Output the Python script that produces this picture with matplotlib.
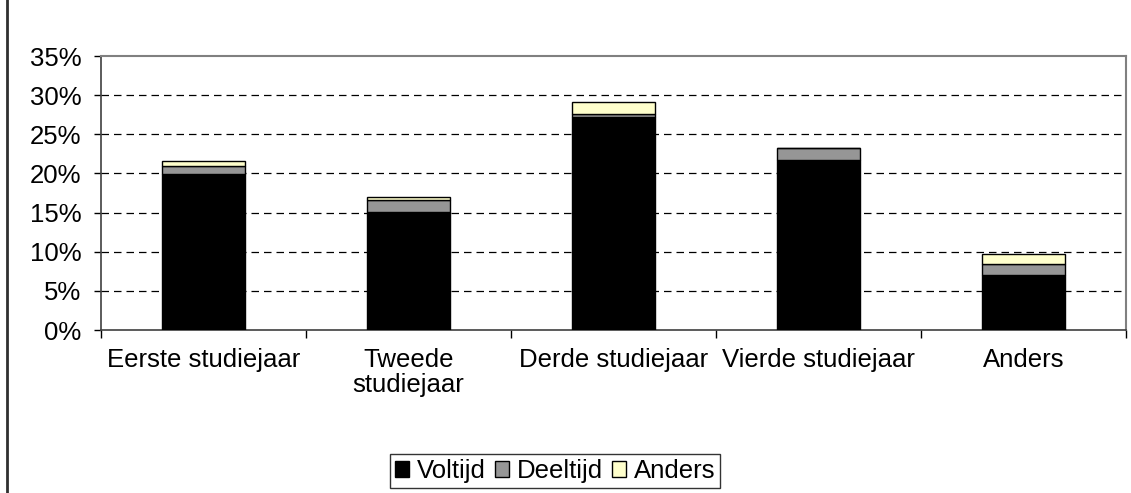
import matplotlib
matplotlib.use("Agg")
from matplotlib import pyplot as plt
from matplotlib.lines import Line2D
import numpy as np

plt.rcParams['font.family'] = ['Liberation Sans', 'DejaVu Sans']

# categorieen en waarden (in %)
categories = ['Eerste studiejaar', 'Tweede\nstudiejaar', 'Derde studiejaar', 'Vierde studiejaar', 'Anders']
voltijd  = [19.9, 15.1, 27.2, 21.7, 7.0]
deeltijd = [1.0, 1.5, 0.4, 1.5, 1.4]
anders   = [0.7, 0.4, 1.5, 0.0, 1.3]
yticks = [0, 5, 10, 15, 20, 25, 30, 35]

fs = 18.5

fig = plt.figure(figsize=(11.31, 4.93), dpi=100)
ax = fig.add_axes([101/1131, 1 - 330/493, 1025/1131, (330-56)/493])

x = np.arange(len(categories))
w = 0.405
ax.bar(x, voltijd, w, color='black', edgecolor='black', linewidth=1, label='Voltijd', zorder=3)
ax.bar(x, deeltijd, w, bottom=voltijd, color='#969696', edgecolor='black', linewidth=1, label='Deeltijd', zorder=3)
bot = [a + b for a, b in zip(voltijd, deeltijd)]
ax.bar(x, anders, w, bottom=bot, color='#FFFFCC', edgecolor='black', linewidth=1, label='Anders', zorder=3)

ax.set_xlim(-0.5, len(categories) - 0.5)
ax.set_ylim(0, 35)
ax.set_yticks(yticks)
ax.set_yticklabels([f'{t}%' for t in yticks], fontsize=fs)
for t in yticks[1:-1]:
	ax.axhline(t, color='black', linestyle=(0, (6, 4)), linewidth=0.9, zorder=1)

ax.set_xticks(x)
ax.set_xticklabels(categories, fontsize=fs, linespacing=1.05)
ax.tick_params(axis='x', length=0, pad=13)
ax.set_xticks(np.arange(len(categories) + 1) - 0.5, minor=True)
ax.tick_params(axis='x', which='minor', length=6, direction='out', width=1)
ax.tick_params(axis='y', length=5, direction='out', width=1, pad=9)

for s in ['top', 'right']:
	ax.spines[s].set_color('#808080')
	ax.spines[s].set_linewidth(1.5)
for s in ['left', 'bottom']:
	ax.spines[s].set_color('#404040')
	ax.spines[s].set_linewidth(1.2)

leg = fig.legend(loc='center', bbox_to_anchor=(555/1131, 1 - 471/493), ncol=3, fontsize=fs,
				 frameon=True, fancybox=False, edgecolor='black', handlelength=0.55, handleheight=0.55,
				 handletextpad=0.3, columnspacing=0.35, borderpad=0.2)
leg.get_frame().set_linewidth(1)

# rand van de grafiek links
fig.add_artist(Line2D([7/1131, 7/1131], [0, 1], color='#303030', linewidth=2))

fig.savefig('out.png', dpi=100)
